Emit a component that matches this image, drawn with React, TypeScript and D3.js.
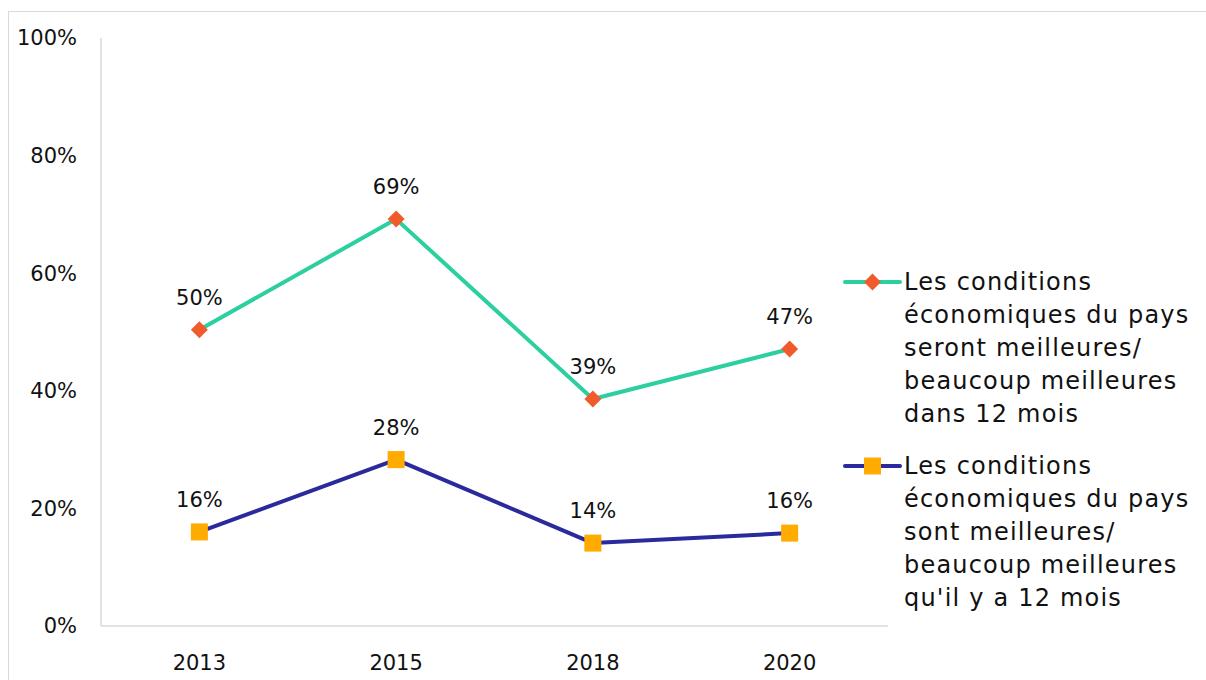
import React from 'react';
import * as d3 from 'd3';

const years = ['2013', '2015', '2018', '2020'];
const futureValues = [50.4, 69.2, 38.6, 47.1];
const currentValues = [16.0, 28.3, 14.1, 15.8];
const yTicks = [0, 20, 40, 60, 80, 100];
const futureLabel = [
  'Les conditions',
  'économiques du pays',
  'seront meilleures/',
  'beaucoup meilleures',
  'dans 12 mois',
];
const currentLabel = [
  'Les conditions',
  'économiques du pays',
  'sont meilleures/',
  'beaucoup meilleures',
  "qu'il y a 12 mois",
];

const W = 1206;
const H = 680;
const FONT = '"DejaVu Sans", Lato, sans-serif';

const App: React.FC = () => {
  const x = d3.scalePoint<string>().domain(years).range([101, 888]).padding(0.5);
  const y = d3.scaleLinear().domain([0, 100]).range([626, 38]);

  const line = d3
    .line<number>()
    .x((_, i) => x(years[i])!)
    .y((d) => y(d));

  const series = [
    { values: futureValues, stroke: '#2ccf9f', marker: '#f15a2b', shape: 'diamond', legend: futureLabel, ly: 282 },
    { values: currentValues, stroke: '#2a2a9c', marker: '#ffab00', shape: 'square', legend: currentLabel, ly: 466 },
  ];

  const marker = (shape: string, cx: number, cy: number, fill: string, key?: string) =>
    shape === 'diamond' ? (
      <rect key={key} x={cx - 6} y={cy - 6} width={12} height={12} fill={fill}
        transform={`rotate(45 ${cx} ${cy})`} />
    ) : (
      <rect key={key} x={cx - 8.5} y={cy - 8.5} width={17} height={17} fill={fill} />
    );

  return (
    <svg width={W} height={H} style={{ position: 'absolute', left: 0, top: 0, fontFamily: FONT }}>
      <rect x={0} y={0} width={W} height={H} fill="#fff" />
      <rect x={8.5} y={11.5} width={W} height={H} fill="none" stroke="#d9d9d9" strokeWidth={1} />

      {/* axes */}
      <line x1={101} x2={101} y1={38} y2={626} stroke="#d9d9d9" strokeWidth={1.5} />
      <line x1={101} x2={888} y1={626} y2={626} stroke="#d9d9d9" strokeWidth={1.5} />

      {yTicks.map((t) => (
        <text key={t} x={77} y={y(t)} dy="0.35em" textAnchor="end" fontSize={21} fill="#111">
          {t}%
        </text>
      ))}
      {years.map((yr) => (
        <text key={yr} x={x(yr)} y={670} textAnchor="middle" fontSize={21} fill="#111">
          {yr}
        </text>
      ))}

      {series.map((s, si) => (
        <g key={si}>
          <path d={line(s.values) || ''} fill="none" stroke={s.stroke} strokeWidth={4} strokeLinejoin="round" />
          {s.values.map((v, i) => marker(s.shape, x(years[i])!, y(v), s.marker, `m${i}`))}
          {s.values.map((v, i) => (
            <text key={`l${i}`} x={x(years[i])} y={y(v) - 25} textAnchor="middle" fontSize={21} fill="#111">
              {Math.round(v)}%
            </text>
          ))}
          {/* legend */}
          <line x1={845} x2={900} y1={s.ly} y2={s.ly} stroke={s.stroke} strokeWidth={4} strokeLinecap="round" />
          {marker(s.shape, 872.5, s.ly, s.marker)}
          {s.legend.map((t, li) => (
            <text key={`g${li}`} x={904} y={s.ly + li * 33} dy="0.35em" fontSize={24}
              letterSpacing={1.2} fill="#111">
              {t}
            </text>
          ))}
        </g>
      ))}
    </svg>
  );
};

export default App;
